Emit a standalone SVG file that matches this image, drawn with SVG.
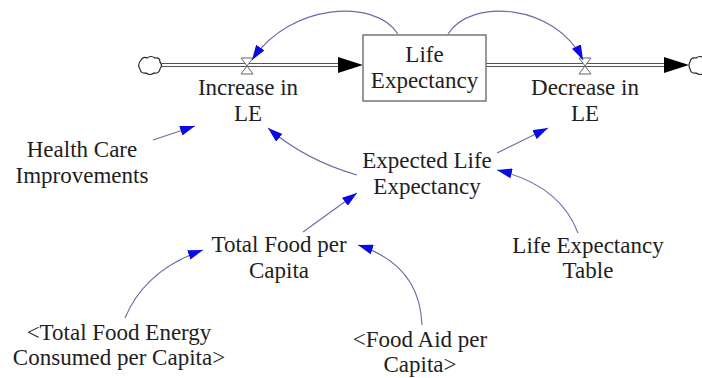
<svg xmlns="http://www.w3.org/2000/svg" width="702" height="378" viewBox="0 0 702 378">
<defs>
<style>
text{font-family:"Liberation Serif","Times New Roman",serif;font-size:23px;fill:#1e1e1e;text-anchor:middle}
.link{fill:none;stroke:#6b6ba8;stroke-width:1.1}
.pipe{fill:none;stroke:#555;stroke-width:1.2}
.valve{fill:#fff;stroke:#666;stroke-width:1}
.cloud{fill:#fff;stroke:#222;stroke-width:1.2}
.stock{fill:#fff;stroke:#777;stroke-width:1.5}
</style>
<marker id="ah" markerUnits="userSpaceOnUse" markerWidth="16" markerHeight="10" refX="15" refY="5" orient="auto" viewBox="0 0 16 10">
<path d="M0,0 L15,5 L0,10 Z" fill="#0a0ae6"/>
</marker>
<marker id="fh" markerUnits="userSpaceOnUse" markerWidth="26" markerHeight="16" refX="25" refY="8" orient="auto" viewBox="0 0 26 16">
<path d="M0,0 L25,8 L0,16 Z" fill="#000"/>
</marker>
</defs>

<g id="flows">
<line class="pipe" x1="162" y1="63.5" x2="345" y2="63.5"/>
<line class="pipe" x1="162" y1="66.5" x2="345" y2="66.5"/>
<line x1="340" y1="65" x2="363" y2="65" stroke="none" marker-end="url(#fh)"/>
<line class="pipe" x1="486" y1="63.5" x2="670" y2="63.5"/>
<line class="pipe" x1="486" y1="66.5" x2="670" y2="66.5"/>
<line x1="665" y1="65" x2="689" y2="65" stroke="none" marker-end="url(#fh)"/>
</g>

<g id="cloud-left">
<path class="cloud" d="M141,60 q2,-4 6,-2 q4,-3 8,0 q5,-1 5,4 q3,3 0,7 q-1,5 -6,4 q-4,3 -8,0 q-5,1 -6,-4 q-3,-4 1,-9 z"/>
</g>
<g id="cloud-right">
<path class="cloud" d="M690,62 q1,-5 6,-4 q4,-3 8,0 l0,15 q-4,3 -8,0 q-5,1 -6,-4 q-2,-4 0,-7 z"/>
</g>

<g id="increase-in-le">
<path class="valve" d="M241,58 L253,58 L247,66 Z M241,74 L253,74 L247,66 Z"/>
<text x="248" y="95">Increase in</text>
<text x="248" y="121">LE</text>
</g>

<g id="decrease-in-le">
<path class="valve" d="M579,58 L591,58 L585,66 Z M579,74 L591,74 L585,66 Z"/>
<text x="585" y="95">Decrease in</text>
<text x="585" y="121">LE</text>
</g>

<g id="life-expectancy">
<rect class="stock" x="363" y="35" width="123" height="66"/>
<text x="424.5" y="62">Life</text>
<text x="424.5" y="88">Expectancy</text>
</g>

<g id="health-care-improvements">
<text x="82" y="157">Health Care</text>
<text x="82" y="183">Improvements</text>
</g>

<g id="expected-life-expectancy">
<text x="427" y="168">Expected Life</text>
<text x="427" y="194">Expectancy</text>
</g>

<g id="life-expectancy-table">
<text x="588" y="253">Life Expectancy</text>
<text x="588" y="278">Table</text>
</g>

<g id="total-food-per-capita">
<text x="279" y="252">Total Food per</text>
<text x="279" y="278">Capita</text>
</g>

<g id="total-food-energy">
<text x="119" y="340">&lt;Total Food Energy</text>
<text x="119" y="365">Consumed per Capita&gt;</text>
</g>

<g id="food-aid-per-capita">
<text x="420" y="347">&lt;Food Aid per</text>
<text x="420" y="372">Capita&gt;</text>
</g>

<g id="connectors">
<path class="link" d="M398,34 C375,-2 290,3 252,60" marker-end="url(#ah)"/>
<path class="link" d="M448,34 C470,-2 555,3 583,60" marker-end="url(#ah)"/>
<path class="link" d="M153,140 L195,126" marker-end="url(#ah)"/>
<path class="link" d="M357,175 Q305,160 268,128" marker-end="url(#ah)"/>
<path class="link" d="M497,153 L548,128" marker-end="url(#ah)"/>
<path class="link" d="M578,233 Q560,185 497,170" marker-end="url(#ah)"/>
<path class="link" d="M303,232 L357,193" marker-end="url(#ah)"/>
<path class="link" d="M125,318 Q145,270 203,250" marker-end="url(#ah)"/>
<path class="link" d="M422,325 Q420,265 358,245" marker-end="url(#ah)"/>
</g>
</svg>
